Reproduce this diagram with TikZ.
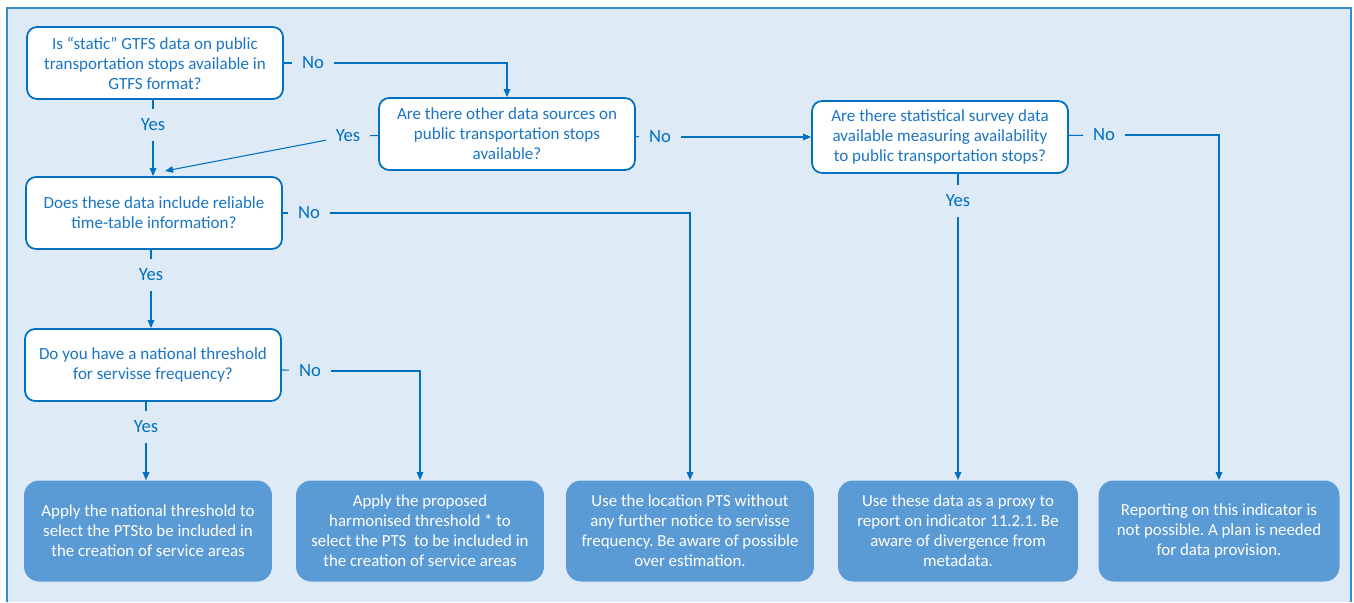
\documentclass[tikz,border=0pt]{standalone}
\usepackage{fontspec}
\setmainfont{Carlito}
\frenchspacing
\usetikzlibrary{arrows.meta,positioning}
\definecolor{bgblue}{HTML}{DEEAF6}
\definecolor{darkblue}{HTML}{0070C0}
\definecolor{midblue}{HTML}{5B9BD5}
\definecolor{textblue}{HTML}{1A75C4}

\begin{document}
\begin{tikzpicture}[x=0.02cm,y=-0.02cm]
\tikzset{
  question/.style={rectangle,rounded corners=2mm,draw=darkblue,line width=1pt,fill=white,text=textblue,align=center,minimum width=5.12cm,minimum height=1.44cm,font=\fontsize{9.7}{11.4}\selectfont},
  outcome/.style={rectangle,rounded corners=3mm,fill=midblue,text=white,align=center,minimum width=4.96cm,minimum height=2.02cm,font=\fontsize{9.6}{11.4}\selectfont},
  answer/.style={text=darkblue,inner sep=5.5pt,font=\fontsize{10.6}{12}\selectfont},
  link/.style={draw=darkblue,line width=0.6pt},
  flow/.style={link,-{Triangle[length=1.6mm,width=1.3mm]}}
}
\useasboundingbox (0,0) rectangle (1354,602);
% frame
\fill[bgblue] (7,8) rectangle (1351,602);
\draw[darkblue!80,line width=0.8pt] (7,602) -- (7,8) -- (1351,8) -- (1351,602);

% questions
\node[question] (q_gtfs) at (155,63) {Is “static” GTFS data on public\\transportation stops available in\\GTFS format?};
\node[question] (q_other) at (507,134) {Are there other data sources on\\public transportation stops\\available?};
\node[question] (q_table) at (154,213) {Does these data include reliable\\time-table information?};
\node[question] (q_thres) at (153,365) {Do you have a national threshold\\for servisse frequency?};
\node[question] (q_survey) at (940,137) {Are there statistical survey data\\available measuring availability\\to public transportation stops?};

% outcomes
\node[outcome] (o_national) at (148,531) {Apply the national threshold to\\select the PTSto be included in\\the creation of service areas};
\node[outcome] (o_proposed) at (420,531) {Apply the proposed\\harmonised threshold * to\\select the PTS\ \ to be included in\\the creation of service areas};
\node[outcome] (o_location) at (690,531) {Use the location PTS without\\any further notice to servisse\\frequency. Be aware of possible\\over estimation.};
\node[outcome,minimum width=4.8cm] (o_proxy) at (958,531) {Use these data as a proxy to\\report on indicator 11.2.1. Be\\aware of divergence from\\metadata.};
\node[outcome,minimum width=4.82cm] (o_none) at (1219,531) {Reporting on this indicator is\\not possible. A plan is needed\\for data provision.};

% answers
\node[answer] (no_gtfs) at (313,63) {No};
\node[answer] (yes_gtfs) at (153,125) {Yes};
\node[answer] (yes_other) at (348,136) {Yes};
\node[answer] (no_other) at (660,137) {No};
\node[answer] (no_table) at (309,213) {No};
\node[answer] (yes_table) at (151,275) {Yes};
\node[answer] (no_thres) at (310,371) {No};
\node[answer] (yes_thres) at (146,427) {Yes};
\node[answer] (yes_survey) at (958,201) {Yes};
\node[answer] (no_survey) at (1104,135) {No};
\coordinate (q_table_in) at (165,171);

% connectors
\draw[link] (q_gtfs) -- (no_gtfs);
\draw[flow] (no_gtfs) -| (q_other.north);
\draw[link] (q_gtfs.south -| yes_gtfs) -- (yes_gtfs);
\draw[flow] (yes_gtfs) -- (yes_gtfs |- q_table.north);
\draw[link] (q_other) -- (yes_other);
\draw[flow] (yes_other) -- (q_table_in);
\draw[link] (q_other) -- (no_other);
\draw[flow] (no_other) -- (no_other -| q_survey.west);
\draw[link] (q_table) -- (no_table);
\draw[flow] (no_table) -| (o_location.north);
\draw[link] (q_table.south -| yes_table) -- (yes_table);
\draw[flow] (yes_table) -- (yes_table |- q_thres.north);
\draw[link] (q_thres) -- (no_thres);
\draw[flow] (no_thres) -| (o_proposed.north);
\draw[link] (q_thres.south -| yes_thres) -- (yes_thres);
\draw[flow] (yes_thres) -- (yes_thres |- o_national.north);
\draw[link] (q_survey.south -| yes_survey) -- (yes_survey);
\draw[flow] (yes_survey) -- (o_proxy.north);
\draw[link] (q_survey) -- (no_survey);
\draw[flow] (no_survey) -| (o_none.north);
\end{tikzpicture}
\end{document}
